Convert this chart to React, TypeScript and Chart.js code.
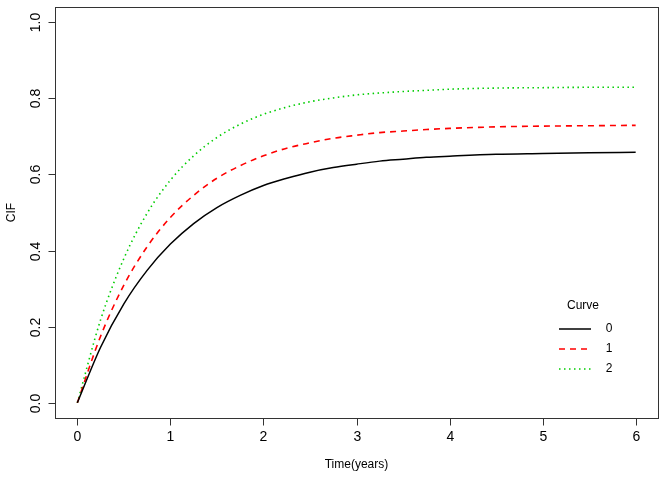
import React, { useEffect, useRef } from "react";
import { Chart, registerables } from "chart.js";

Chart.register(...registerables);

const TIME = [0, 0.25, 0.5, 0.75, 1, 1.25, 1.5, 1.75, 2, 2.25, 2.5, 2.75, 3, 3.25, 3.5, 3.75, 4, 4.5, 5, 5.5, 6];
const CIF_0 = [0, 0.146, 0.26, 0.348, 0.417, 0.471, 0.513, 0.545, 0.571, 0.59, 0.606, 0.618, 0.627, 0.635, 0.64, 0.645, 0.648, 0.653, 0.655, 0.657, 0.658];
const CIF_1 = [0, 0.175, 0.309, 0.41, 0.487, 0.545, 0.59, 0.623, 0.649, 0.669, 0.683, 0.695, 0.703, 0.71, 0.714, 0.718, 0.721, 0.725, 0.727, 0.728, 0.729];
const CIF_2 = [0, 0.218, 0.379, 0.498, 0.585, 0.649, 0.697, 0.732, 0.758, 0.777, 0.791, 0.801, 0.809, 0.814, 0.818, 0.821, 0.824, 0.827, 0.828, 0.829, 0.829];
const CURVE_LABELS = ["0", "1", "2"];
const X_TICKS = [0, 1, 2, 3, 4, 5, 6];
const Y_TICKS = [0, 0.2, 0.4, 0.6, 0.8, 1.0];
const X_TITLE = "Time(years)";
const Y_TITLE = "CIF";
const LEGEND_TITLE = "Curve";

const COLORS = ["#000000", "#FF0000", "#00CD00"];
const DASHES: number[][] = [[], [6, 5], [1.5, 3.5]];
const WIDTHS = [1.5, 1.6, 1.6];
const FONT_FAMILY = '"Liberation Sans", Arial, Helvetica, sans-serif';

const rAxesPlugin = {
  id: "rAxes",
  afterDraw(chart: any) {
    const { ctx, chartArea, scales } = chart;
    const xs = scales.x;
    const ys = scales.y;
    ctx.save();
    // box
    ctx.strokeStyle = "#333";
    ctx.lineWidth = 1;
    ctx.setLineDash([]);
    ctx.strokeRect(
      Math.round(chartArea.left) + 0.5,
      Math.round(chartArea.top) + 0.5,
      Math.round(chartArea.right - chartArea.left),
      Math.round(chartArea.bottom - chartArea.top)
    );
    ctx.fillStyle = "#000";
    ctx.font = `14px ${FONT_FAMILY}`;
    // x ticks
    const bottom = Math.round(chartArea.bottom) + 0.5;
    X_TICKS.forEach((t) => {
      const px = Math.round(xs.getPixelForValue(t)) + 0.5;
      ctx.beginPath();
      ctx.moveTo(px, bottom);
      ctx.lineTo(px, bottom + 7);
      ctx.stroke();
      ctx.textAlign = "center";
      ctx.textBaseline = "middle";
      ctx.fillText(String(t), px, 437);
    });
    // y ticks
    const left = Math.round(chartArea.left) + 0.5;
    Y_TICKS.forEach((v) => {
      const py = Math.round(ys.getPixelForValue(v)) + 0.5;
      ctx.beginPath();
      ctx.moveTo(left, py);
      ctx.lineTo(left - 7, py);
      ctx.stroke();
      ctx.save();
      ctx.translate(36, py);
      ctx.rotate(-Math.PI / 2);
      ctx.textAlign = "center";
      ctx.textBaseline = "middle";
      ctx.fillText(v.toFixed(1), 0, 0);
      ctx.restore();
    });
    // titles
    ctx.font = `12px ${FONT_FAMILY}`;
    ctx.textAlign = "center";
    ctx.textBaseline = "middle";
    ctx.fillText(X_TITLE, (chartArea.left + chartArea.right) / 2, 465);
    ctx.save();
    ctx.translate(12, (chartArea.top + chartArea.bottom) / 2);
    ctx.rotate(-Math.PI / 2);
    ctx.fillText(Y_TITLE, 0, 0);
    ctx.restore();
    // legend
    ctx.font = `12px ${FONT_FAMILY}`;
    ctx.fillText(LEGEND_TITLE, 583, 306);
    CURVE_LABELS.forEach((lab, i) => {
      const y = 329 + i * 20;
      ctx.beginPath();
      ctx.strokeStyle = COLORS[i];
      ctx.lineWidth = WIDTHS[i];
      ctx.setLineDash(DASHES[i]);
      ctx.moveTo(559, y);
      ctx.lineTo(591, y);
      ctx.stroke();
      ctx.setLineDash([]);
      ctx.fillStyle = "#000";
      ctx.fillText(lab, 609, y);
    });
    ctx.restore();
  },
};

export default function App() {
  const ref = useRef<HTMLCanvasElement | null>(null);
  useEffect(() => {
    document.body.style.margin = "0";
    const canvas = ref.current;
    if (!canvas) return;
    const series = [CIF_0, CIF_1, CIF_2];
    const chart = new Chart(canvas, {
      type: "line",
      data: {
        datasets: series.map((vals, i) => ({
          label: CURVE_LABELS[i],
          data: TIME.map((t, j) => ({ x: t, y: vals[j] })),
          borderColor: COLORS[i],
          borderWidth: WIDTHS[i],
          borderDash: DASHES[i],
          pointRadius: 0,
          fill: false,
          cubicInterpolationMode: "monotone" as const,
        })),
      },
      options: {
        responsive: false,
        animation: false,
        devicePixelRatio: 1,
        layout: { padding: { left: 55, top: 7, right: 9, bottom: 59 } },
        plugins: { legend: { display: false }, tooltip: { enabled: false } },
        scales: {
          x: { type: "linear", display: false, min: -0.24, max: 6.24 },
          y: { type: "linear", display: false, min: -0.04, max: 1.04 },
        },
      },
      plugins: [rAxesPlugin],
    });
    return () => chart.destroy();
  }, []);
  return <canvas ref={ref} width={667} height={477} style={{ display: "block" }} />;
}
